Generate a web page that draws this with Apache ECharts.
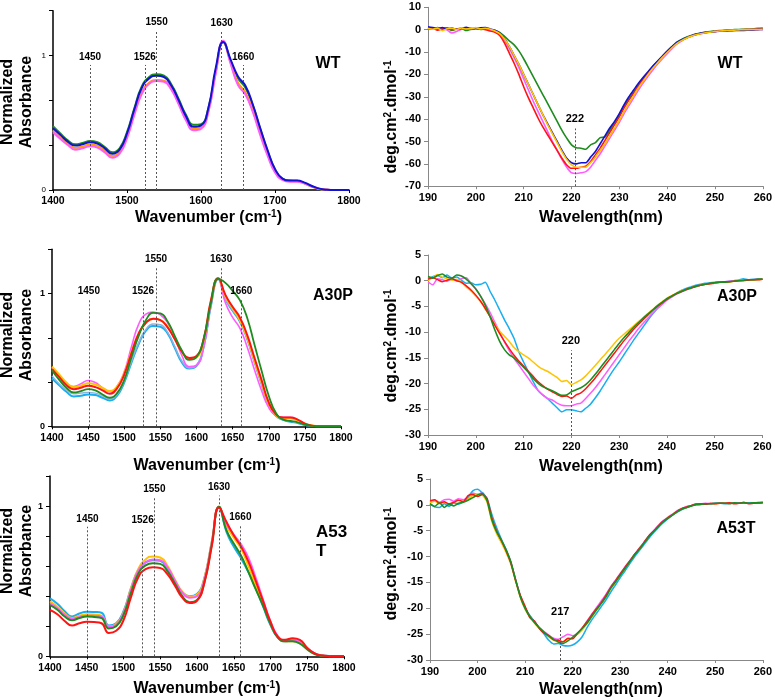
<!DOCTYPE html>
<html><head><meta charset="utf-8">
<script src="https://cdn.jsdelivr.net/npm/echarts@6/dist/echarts.min.js"></script>
<style>html,body{margin:0;padding:0;background:#fff}#c{width:775px;height:699px}</style>
</head><body><div id="c"></div><script>
// ---------- DATA ----------
const ftirX = [1400,1410,1420,1430,1440,1450,1460,1470,1480,1490,1500,1510,1520,1530,1540,1550,1560,1570,1580,1590,1600,1610,1620,1630,1640,1650,1660,1670,1680,1690,1700,1710,1720,1730,1740,1750,1760,1770,1780,1790,1800];
const cdX = [190,191,192,193,194,195,196,197,198,199,200,201,202,203,204,205,206,207,208,209,210,211,212,213,214,215,216,217,218,219,220,221,222,223,224,225,226,227,228,229,230,231,232,233,234,235,236,237,238,239,240,241,242,243,244,245,246,247,248,249,250,251,252,253,254,255,256,257,258,259,260];

// FTIR WT
const wtGreen   = [.475,.42,.37,.34,.35,.365,.355,.32,.28,.31,.43,.61,.77,.84,.86,.85,.785,.675,.555,.485,.49,.61,.89,1.10,.96,.83,.76,.63,.455,.29,.155,.085,.07,.068,.05,.025,.008,.002,0,0,0];
const wtBlue    = [.46,.41,.36,.33,.34,.355,.345,.31,.27,.30,.42,.60,.76,.83,.85,.84,.775,.665,.545,.47,.48,.61,.91,1.10,.97,.845,.775,.635,.46,.295,.155,.085,.07,.07,.055,.03,.01,.002,0,0,0];
const wtOrange  = [.445,.395,.35,.315,.325,.34,.33,.295,.255,.285,.40,.575,.73,.80,.82,.815,.755,.645,.525,.455,.465,.59,.88,1.10,.95,.80,.73,.60,.43,.27,.14,.08,.065,.065,.05,.025,.008,.002,0,0,0];
const wtYellow  = [.44,.39,.345,.31,.32,.335,.325,.29,.25,.28,.395,.57,.72,.795,.815,.81,.75,.64,.52,.45,.46,.585,.875,1.10,.945,.79,.72,.59,.42,.265,.14,.078,.065,.064,.048,.024,.008,.002,0,0,0];
const wtMagenta = [.43,.38,.335,.30,.31,.325,.315,.28,.24,.27,.385,.56,.715,.79,.81,.805,.745,.635,.515,.445,.455,.58,.87,1.11,.94,.78,.71,.58,.41,.255,.13,.075,.062,.062,.048,.026,.01,.003,0,0,0];

// FTIR A30P
const a30Magenta = [.44,.38,.32,.30,.32,.345,.33,.29,.26,.30,.41,.60,.77,.845,.86,.84,.78,.67,.53,.45,.46,.60,.92,1.115,.93,.82,.74,.60,.43,.27,.14,.08,.068,.068,.05,.02,.005,0,0,0,0];
const a30Orange  = [.45,.39,.33,.295,.305,.325,.315,.29,.265,.30,.40,.56,.70,.78,.81,.80,.75,.66,.56,.51,.52,.65,.94,1.115,.98,.89,.80,.67,.50,.33,.17,.085,.06,.058,.045,.02,.006,0,0,0,0];
const a30Red     = [.43,.37,.31,.28,.29,.305,.295,.27,.245,.285,.39,.55,.70,.78,.81,.80,.745,.655,.56,.515,.53,.66,.95,1.115,.99,.90,.82,.69,.52,.35,.18,.09,.066,.066,.05,.02,.005,0,0,0,0];
const a30Green   = [.42,.35,.29,.255,.265,.28,.27,.24,.215,.25,.35,.52,.68,.80,.855,.85,.79,.68,.57,.50,.52,.66,.93,1.11,1.08,1.02,.95,.82,.62,.42,.23,.10,.05,.04,.03,.012,.003,0,0,0,0];
const a30LBlue   = [.38,.32,.275,.245,.25,.255,.25,.23,.205,.24,.34,.49,.63,.73,.77,.765,.71,.60,.49,.44,.46,.60,.91,1.11,.96,.875,.795,.665,.49,.32,.16,.08,.05,.037,.027,.011,.003,0,0,0,0];
const a30Cyan    = [.36,.31,.26,.225,.23,.24,.235,.215,.195,.23,.33,.48,.62,.72,.755,.75,.70,.59,.48,.435,.455,.60,.91,1.11,.96,.87,.79,.66,.49,.32,.16,.08,.048,.035,.025,.01,.003,0,0,0,0];

// FTIR A53T
const a53Cyan    = [.386,.35,.30,.265,.285,.297,.295,.29,.205,.22,.30,.45,.575,.625,.64,.635,.575,.49,.425,.40,.415,.52,.76,.995,.83,.73,.652,.56,.452,.33,.208,.124,.10,.108,.093,.053,.02,.007,.002,0,0];
const a53Yellow  = [.365,.33,.285,.255,.27,.28,.278,.27,.198,.215,.29,.45,.58,.645,.665,.658,.60,.51,.43,.397,.41,.52,.76,.995,.87,.79,.715,.60,.47,.35,.22,.13,.10,.10,.09,.05,.018,.005,.001,0,0];
const a53Magenta = [.352,.32,.277,.25,.262,.27,.27,.265,.195,.21,.285,.44,.57,.625,.645,.64,.59,.505,.425,.39,.40,.51,.75,.99,.88,.81,.745,.655,.52,.375,.23,.135,.105,.11,.10,.055,.02,.005,.001,0,0];
const a53Green   = [.34,.31,.265,.24,.255,.265,.262,.255,.185,.20,.275,.42,.55,.605,.62,.615,.565,.485,.40,.36,.375,.49,.74,.995,.84,.75,.67,.56,.445,.335,.215,.125,.10,.10,.085,.045,.015,.004,.001,0,0];
const a53Red     = [.308,.28,.235,.205,.22,.23,.228,.22,.155,.17,.24,.39,.525,.58,.592,.588,.545,.47,.39,.355,.37,.49,.73,.99,.895,.805,.73,.63,.50,.365,.23,.13,.11,.12,.11,.055,.02,.005,.001,0,0];

// CD WT
const wtcdGreen = [0.8,0.4,0.9,0.2,0.5,-0.3,0.3,0.6,-0.4,0.2,
 0.5,0.1,0.4,0.0,-0.4,-1.2,-3.0,-5.0,-6.8,-9.5,
 -13.0,-17.0,-21.0,-25.0,-29.0,-33.0,-37.0,-41.0,-45.0,-48.5,
 -51.5,-52.8,-53.0,-53.5,-51.5,-50.5,-48.3,-48.0,-45.0,-41.5,
 -38.0,-34.0,-31.0,-28.0,-25.0,-22.0,-19.2,-16.6,-14.2,-12.0,
 -9.8,-7.6,-5.6,-4.4,-3.4,-2.6,-2.0,-1.5,-1.1,-0.8,
 -0.6,-0.4,-0.3,-0.1,0.0,0.1,0.2,0.3,0.4,0.6,
 0.7];
const wtcdBlue = [1.3,0.9,0.5,1.0,0.3,0.7,0.2,0.6,1.1,0.4,
 0.6,0.8,0.9,0.3,-0.3,-1.5,-4.0,-7.5,-11.5,-15.5,
 -20.0,-24.5,-29.0,-33.5,-38.0,-42.0,-46.0,-50.0,-54.0,-57.5,
 -59.5,-60.0,-59.5,-59.5,-57.0,-54.5,-51.0,-47.5,-44.0,-41.0,
 -37.5,-33.5,-30.0,-27.0,-24.0,-21.3,-18.8,-16.3,-14.0,-11.8,
 -9.6,-7.6,-5.8,-4.6,-3.6,-2.8,-2.1,-1.6,-1.3,-1.1,
 -0.9,-0.7,-0.6,-0.5,-0.4,-0.3,-0.3,-0.2,-0.1,0.0,
 0.1];
const wtcdRed = [0.2,0.6,-0.2,0.4,0.8,0.1,0.3,0.5,0.2,0.6,
 0.4,0.3,0.0,-0.6,-1.2,-2.6,-6.0,-10.5,-15.0,-20.0,
 -25.5,-30.5,-35.0,-39.5,-43.5,-47.0,-50.5,-54.0,-57.5,-60.5,
 -62.0,-62.0,-61.5,-61.0,-59.0,-56.0,-53.0,-49.5,-46.0,-42.5,
 -39.0,-35.0,-31.5,-28.5,-25.2,-22.2,-19.3,-16.6,-14.2,-12.0,
 -9.8,-7.8,-6.0,-4.8,-3.7,-2.9,-2.2,-1.7,-1.3,-1.0,
 -0.8,-0.6,-0.4,-0.3,-0.2,-0.1,0.0,0.1,0.1,0.2,
 0.2];
const wtcdOrange = [0.5,0.2,0.7,-0.5,0.4,0.6,0.1,0.8,0.3,0.5,
 0.9,0.4,0.6,0.2,-0.6,-1.8,-4.2,-7.5,-11.5,-15.5,
 -20.0,-24.5,-29.0,-33.5,-38.0,-42.5,-46.5,-50.5,-54.5,-58.0,
 -60.5,-61.5,-61.5,-61.5,-59.5,-57.0,-54.0,-51.0,-47.5,-44.0,
 -40.5,-36.5,-33.0,-29.5,-26.0,-23.0,-20.0,-17.3,-14.8,-12.4,
 -10.2,-8.1,-6.2,-4.9,-3.8,-3.0,-2.3,-1.8,-1.4,-1.1,
 -0.8,-0.6,-0.5,-0.3,-0.2,-0.1,0.0,0.0,0.1,0.1,
 0.2];
const wtcdMagenta = [0.3,0.7,0.0,0.4,-0.2,-1.5,-0.8,0.2,0.5,0.1,
 0.6,0.3,0.5,-0.2,-0.8,-2.0,-4.8,-8.5,-12.5,-17.0,
 -22.0,-27.0,-32.0,-36.5,-41.0,-45.5,-50.0,-54.0,-58.0,-61.5,
 -64.0,-64.3,-64.0,-63.5,-61.5,-58.5,-55.5,-52.0,-48.5,-45.0,
 -41.5,-37.5,-34.0,-30.5,-27.0,-23.8,-20.8,-18.0,-15.4,-13.0,
 -10.7,-8.5,-6.5,-5.1,-3.9,-3.0,-2.3,-1.8,-1.4,-1.1,
 -0.8,-0.6,-0.5,-0.4,-0.3,-0.2,-0.1,0.0,0.0,0.1,
 0.1];

// CD A30P
const a30cdYellow = [0.0,0.6,1.2,0.7,0.4,0.1,0.3,-0.3,-1.2,-2.0,
 -3.0,-4.0,-5.5,-7.0,-8.5,-9.8,-10.8,-11.8,-13.0,-13.8,
 -14.4,-15.0,-15.8,-16.6,-17.2,-17.6,-18.2,-18.8,-19.6,-19.4,
 -20.2,-19.8,-19.3,-18.5,-17.5,-16.5,-15.4,-14.4,-13.3,-12.2,
 -11.2,-10.4,-9.6,-8.8,-8.0,-7.2,-6.4,-5.6,-4.8,-4.1,
 -3.4,-2.9,-2.4,-2.0,-1.7,-1.4,-1.1,-0.9,-0.7,-0.6,
 -0.5,-0.4,-0.2,-0.3,-0.1,0.0,0.1,0.2,0.1,0.2,
 0.3];
const a30cdGreen = [0.8,0.5,1.0,1.3,0.7,0.5,1.1,0.9,0.3,-0.6,
 -1.6,-3.0,-4.8,-7.0,-9.6,-11.8,-13.4,-14.4,-15.0,-15.9,
 -16.8,-17.8,-19.0,-19.9,-20.6,-21.0,-21.4,-21.9,-22.3,-22.2,
 -21.6,-21.2,-20.8,-20.2,-19.3,-18.2,-17.0,-15.8,-14.6,-13.4,
 -12.2,-11.1,-10.1,-9.1,-8.2,-7.3,-6.5,-5.7,-4.9,-4.2,
 -3.5,-3.0,-2.5,-2.1,-1.7,-1.4,-1.1,-0.9,-0.7,-0.5,
 -0.4,-0.3,-0.3,-0.2,-0.1,0.0,0.1,0.2,0.2,0.3,
 0.3];
const a30cdRed = [0.3,0.6,0.2,-0.2,0.1,0.4,0.0,-0.3,-1.0,-1.8,
 -2.8,-4.0,-5.4,-7.0,-8.7,-10.3,-11.8,-13.2,-14.5,-15.6,
 -16.6,-17.6,-18.6,-19.6,-20.4,-21.1,-21.6,-22.1,-22.5,-22.4,
 -22.9,-22.2,-21.8,-21.0,-20.0,-18.9,-17.7,-16.5,-15.3,-14.1,
 -12.9,-11.7,-10.6,-9.5,-8.5,-7.6,-6.7,-5.8,-5.0,-4.3,
 -3.6,-3.0,-2.5,-2.1,-1.7,-1.4,-1.1,-0.9,-0.7,-0.6,
 -0.4,-0.3,-0.2,-0.2,-0.1,0.0,0.0,0.1,0.2,0.2,
 0.3];
const a30cdMagenta = [-0.2,-0.8,0.4,0.2,-0.1,0.3,0.0,0.4,0.6,-0.5,
 -1.6,-3.0,-4.5,-6.2,-8.1,-10.0,-11.9,-13.6,-15.1,-16.4,
 -17.7,-19.0,-20.3,-21.3,-22.2,-22.9,-23.2,-23.8,-24.2,-24.3,
 -24.3,-24.0,-23.8,-22.9,-21.9,-20.8,-19.6,-18.3,-17.0,-15.7,
 -14.4,-13.1,-11.8,-10.6,-9.4,-8.3,-7.3,-6.3,-5.4,-4.6,
 -3.8,-3.2,-2.6,-2.2,-1.8,-1.5,-1.2,-0.9,-0.7,-0.6,
 -0.5,-0.3,-0.2,-0.1,0.0,0.1,0.2,0.1,0.2,0.3,
 0.3];
const a30cdCyan = [0.2,0.8,1.0,0.6,1.1,0.5,0.7,0.1,-0.5,-0.4,
 -0.8,-0.7,-0.3,-2.1,-3.8,-5.7,-7.6,-9.3,-11.2,-13.8,
 -15.8,-17.7,-19.6,-21.3,-22.2,-22.9,-23.8,-24.7,-25.5,-25.1,
 -25.1,-25.3,-25.5,-24.8,-24.0,-22.8,-21.5,-20.0,-18.5,-17.1,
 -15.8,-14.4,-13.0,-11.6,-10.3,-9.0,-7.7,-6.5,-5.4,-4.5,
 -3.7,-3.0,-2.4,-1.9,-1.5,-1.2,-0.9,-0.7,-0.5,-0.4,
 -0.3,-0.2,-0.2,-0.1,0.0,0.1,0.4,0.2,0.3,0.3,
 0.3];

// CD A53T
const a53cdRed = [0.8,1.0,0.3,0.6,0.2,0.5,0.9,0.6,1.8,2.0,
 1.6,2.0,1.2,-2.5,-5.0,-6.9,-8.9,-11.2,-14.6,-17.5,
 -19.6,-21.8,-22.5,-23.9,-24.8,-25.3,-26.1,-26.2,-26.5,-25.8,
 -25.9,-24.9,-23.8,-22.6,-21.3,-20.1,-18.9,-17.5,-16.0,-14.7,
 -13.4,-12.1,-10.9,-9.6,-8.5,-7.3,-6.0,-5.1,-4.1,-3.2,
 -2.5,-1.9,-1.2,-0.7,-0.4,-0.1,0.1,0.2,0.1,0.3,
 0.2,0.3,0.3,0.4,0.2,0.3,0.5,0.2,0.3,0.4,
 0.4];
const a53cdMagenta = [0.6,0.9,0.5,1.0,1.1,0.7,1.2,1.0,1.5,2.3,
 2.0,2.4,1.0,-2.7,-5.1,-7.0,-8.8,-11.1,-14.4,-17.6,
 -19.8,-21.5,-22.6,-23.7,-24.5,-25.2,-25.8,-26.0,-25.5,-25.0,
 -25.3,-25.0,-24.0,-22.5,-21.2,-19.9,-18.6,-17.3,-15.8,-14.6,
 -13.3,-12.0,-10.8,-9.6,-8.4,-7.2,-6.0,-5.0,-4.0,-3.1,
 -2.4,-1.8,-1.1,-0.7,-0.3,-0.1,0.2,0.2,0.3,0.2,
 0.3,0.4,0.3,0.3,0.4,0.3,0.4,0.4,0.3,0.5,
 0.5];
const a53cdYellow = [0.4,0.7,0.2,0.5,0.0,0.4,0.2,0.7,1.2,1.8,
 2.1,1.9,0.5,-3.2,-5.6,-7.3,-9.2,-11.5,-14.8,-17.9,
 -20.2,-21.7,-22.9,-23.9,-24.9,-25.6,-26.2,-26.5,-26.4,-26.0,
 -25.8,-25.0,-24.2,-23.0,-21.7,-20.4,-19.1,-17.8,-16.3,-15.0,
 -13.7,-12.4,-11.1,-9.8,-8.6,-7.4,-6.2,-5.2,-4.2,-3.3,
 -2.6,-1.9,-1.3,-0.8,-0.5,-0.2,0.0,0.1,0.2,0.2,
 0.2,0.3,0.3,0.3,0.3,0.4,0.3,0.4,0.4,0.4,
 0.4];
const a53cdCyan = [0.3,-0.4,-0.5,0.2,-0.3,0.4,0.1,0.6,1.5,2.7,
 3.0,2.3,1.2,-1.8,-4.4,-6.6,-8.6,-11.2,-14.5,-17.6,
 -19.9,-21.4,-22.6,-23.8,-25.0,-26.2,-26.9,-26.8,-27.2,-27.3,
 -27.1,-26.5,-25.5,-23.8,-22.3,-21.0,-19.7,-18.4,-16.9,-15.5,
 -14.1,-12.8,-11.4,-10.1,-8.9,-7.7,-6.5,-5.4,-4.4,-3.5,
 -2.7,-2.0,-1.4,-0.9,-0.5,-0.2,0.0,0.1,0.2,0.2,
 0.3,0.3,0.2,0.3,0.3,0.4,0.3,0.4,0.4,0.3,
 0.4];
const a53cdGreen = [0.2,-0.3,0.4,-0.5,0.1,-0.2,0.3,0.5,0.9,1.4,
 1.9,2.2,0.8,-2.9,-5.2,-6.8,-8.7,-11.0,-14.5,-17.8,
 -20.0,-21.6,-22.8,-23.8,-24.6,-25.4,-26.0,-26.5,-26.8,-26.3,
 -25.6,-24.8,-23.9,-22.9,-21.6,-20.3,-19.1,-17.8,-16.1,-14.9,
 -13.6,-12.3,-11.0,-9.7,-8.6,-7.4,-6.2,-5.2,-4.2,-3.3,
 -2.6,-2.0,-1.3,-0.8,-0.5,-0.2,0.1,0.1,0.2,0.2,
 0.3,0.3,0.3,0.2,0.4,0.3,0.4,0.3,0.4,0.4,
 0.5];

// Marker (dotted reference) lines
const wtMarkPos = [1450,1524,1540,1628,1657];
const wtMarkTop = [0.93,0.93,1.186,1.18,0.93];
const a30MarkPos = [1451,1526,1544,1634,1662];
const a30MarkTop = [0.957,0.957,1.197,1.197,0.957];
const a53MarkPos = [1451,1526,1542,1630,1659];
const a53MarkTop = [0.862,0.85,1.06,1.07,0.875];
const ftirMarkLabels = ['1450','1526','1550','1630','1660'];
const cdMarkPos = [220.7, 219.9, 217.4];
const cdMarkTop = [-44.2, -13.5, -22.6];
const cdMarkLabels = ['222','220','217'];
const panelLabels = ['WT','WT','A30P','A30P','A53\nT','A53T'];

// ---------- STYLE ----------
const FF = 'Liberation Sans, Arial, Helvetica, sans-serif';
const C = {green:'#1e8c1e', blue:'#1212d4', orange:'#ff9c00', yellow:'#ffc400', magenta:'#ff5cff',
           red:'#ff1414', cyan:'#18aef0', lblue:'#8fb3df'};

const grids = [
  {left:53, top:10.7, width:296, height:179.3},
  {left:428, top:7.3, width:335.5, height:178.9},
  {left:52, top:249.3, width:289, height:177},
  {left:428, top:255, width:334.5, height:180},
  {left:50, top:476, width:294, height:180.3},
  {left:430, top:479, width:336.5, height:181}
];
const plain = v => String(v);

function ftirXAxis(gi, interval) {
  return {gridIndex:gi, type:'value', min:1400, max:1800, interval,
    axisLine:{onZero:false, lineStyle:{color:'#000', width:1.5}},
    axisTick:{show:true, length:3, lineStyle:{color:'#000'}},
    axisLabel:{color:'#000', fontSize:10.5, fontWeight:'bold', fontFamily:FF, margin:6, formatter:plain},
    splitLine:{show:false}};
}
function ftirYAxis(gi, max, interval, fs, fw) {
  return {gridIndex:gi, type:'value', min:0, max, interval,
    axisLine:{lineStyle:{color:'#000', width:1.5}},
    axisTick:{show:true, length:4, lineStyle:{color:'#000'}},
    axisLabel:{color:'#000', fontSize:fs, fontWeight:fw, fontFamily:FF, margin:7,
      formatter: v => Math.abs(v-1)<1e-6 ? '1' : (Math.abs(v)<1e-6 ? '0' : '')},
    splitLine:{show:false}};
}
function cdXAxis(gi) {
  return {gridIndex:gi, type:'value', min:190, max:260, interval:10,
    axisLine:{onZero:false, lineStyle:{color:'#888', width:1}},
    axisTick:{show:true, length:3, lineStyle:{color:'#888'}},
    axisLabel:{color:'#000', fontSize:11, fontWeight:'bold', fontFamily:FF, margin:6, formatter:plain},
    splitLine:{show:false}};
}
function cdYAxis(gi, min, max, interval) {
  return {gridIndex:gi, type:'value', min, max, interval,
    axisLine:{onZero:false, lineStyle:{color:'#888', width:1}},
    axisTick:{show:true, length:4, lineStyle:{color:'#888'}},
    axisLabel:{color:'#000', fontSize:11, fontWeight:'bold', fontFamily:FF, margin:7, formatter:plain},
    splitLine:{show:false}};
}
function line(gi, xs, ys, color, width, smooth) {
  return {type:'line', xAxisIndex:gi, yAxisIndex:gi, data: xs.map((x,i)=>[x, ys[i]]),
    symbol:'none', showSymbol:false, smooth, lineStyle:{color, width}, itemStyle:{color},
    silent:true, animation:false, z:3};
}
function marks(gi, pos, tops, labels, fs, dist) {
  return {type:'line', xAxisIndex:gi, yAxisIndex:gi, data:[], silent:true, z:2,
    markLine:{silent:true, symbol:'none', animation:false,
      lineStyle:{color:'#555', width:1, type:[2,2]},
      label:{show:true, position:'end', formatter:'{b}', color:'#000', fontSize:fs,
             fontWeight:'bold', fontFamily:FF, distance:dist},
      data: pos.map((p,i)=>[{coord:[p, 0], name:labels[i]}, {coord:[p, tops[i]]}])}};
}
function cdMarks(gi, k, ymin) {
  return {type:'line', xAxisIndex:gi, yAxisIndex:gi, data:[], silent:true, z:2,
    markLine:{silent:true, symbol:'none', animation:false,
      lineStyle:{color:'#555', width:1, type:[2,2]},
      label:{show:true, position:'end', formatter:'{b}', color:'#000', fontSize:11,
             fontWeight:'bold', fontFamily:FF, distance:4},
      data:[[{coord:[cdMarkPos[k], ymin], name:cdMarkLabels[k]}, {coord:[cdMarkPos[k], cdMarkTop[k]]}]]}};
}

const series = [
  marks(0, wtMarkPos, wtMarkTop, ftirMarkLabels, 10, 3),
  line(0, ftirX, wtGreen, C.green, 2, 0.5),
  line(0, ftirX, wtYellow, C.yellow, 2, 0.5),
  line(0, ftirX, wtOrange, C.orange, 1.5, 0.5),
  line(0, ftirX, wtMagenta, C.magenta, 2, 0.5),
  line(0, ftirX, wtBlue, C.blue, 2, 0.5),

  cdMarks(1, 0, -70),
  line(1, cdX, wtcdGreen, C.green, 1.6, 0.2),
  line(1, cdX, wtcdMagenta, C.magenta, 1.6, 0.2),
  line(1, cdX, wtcdRed, C.red, 1.6, 0.2),
  line(1, cdX, wtcdBlue, C.blue, 1.6, 0.2),
  line(1, cdX, wtcdOrange, C.yellow, 1.6, 0.2),

  marks(2, a30MarkPos, a30MarkTop, ftirMarkLabels, 10, 3),
  line(2, ftirX, a30Cyan, C.cyan, 2, 0.5),
  line(2, ftirX, a30LBlue, C.lblue, 1.5, 0.5),
  line(2, ftirX, a30Magenta, C.magenta, 1.6, 0.5),
  line(2, ftirX, a30Orange, C.yellow, 2, 0.5),
  line(2, ftirX, a30Red, C.red, 2, 0.5),
  line(2, ftirX, a30Green, C.green, 1.8, 0.5),

  cdMarks(3, 1, -30),
  line(3, cdX, a30cdCyan, C.cyan, 1.5, 0.2),
  line(3, cdX, a30cdMagenta, C.magenta, 1.5, 0.2),
  line(3, cdX, a30cdYellow, C.yellow, 1.5, 0.2),
  line(3, cdX, a30cdRed, C.red, 1.5, 0.2),
  line(3, cdX, a30cdGreen, C.green, 1.6, 0.2),

  marks(4, a53MarkPos, a53MarkTop, ftirMarkLabels, 10, 3),
  line(4, ftirX, a53Cyan, C.cyan, 2, 0.5),
  line(4, ftirX, a53Yellow, C.yellow, 2, 0.5),
  line(4, ftirX, a53Magenta, C.magenta, 2, 0.5),
  line(4, ftirX, a53Green, C.green, 2, 0.5),
  line(4, ftirX, a53Red, C.red, 2, 0.5),

  cdMarks(5, 2, -30),
  line(5, cdX, a53cdMagenta, C.magenta, 1.5, 0.2),
  line(5, cdX, a53cdYellow, C.yellow, 1.5, 0.2),
  line(5, cdX, a53cdCyan, C.cyan, 1.5, 0.2),
  line(5, cdX, a53cdRed, C.red, 1.5, 0.2),
  line(5, cdX, a53cdGreen, C.green, 1.6, 0.2)
];

function txt(x, y, text, size, extra) {
  return Object.assign({type:'text', x, y, silent:true,
    style:{text, fontSize:size, fontWeight:'bold', fontFamily:FF, fill:'#000',
           align:'center', verticalAlign:'middle', lineHeight:19}}, extra || {});
}
const richBase = {
  m:{fontSize:16, fontWeight:'bold', fontFamily:FF, fill:'#000', lineHeight:18},
  s:{fontSize:10, fontWeight:'bold', fontFamily:FF, fill:'#000', verticalAlign:'top', lineHeight:18}
};
function richTxt(x, y, text, rot) {
  return {type:'text', x, y, rotation: rot || 0, silent:true,
    style:{text, rich:richBase, fontSize:16, fontWeight:'bold', fontFamily:FF, fill:'#000',
           align:'center', verticalAlign:'middle'}};
}
const xTitleFTIR = '{m|Wavenumber (cm}{s|-1}{m|)}';
const xTitleCD = '{m|Wavelength(nm)}';
const yTitleCD = '{m|deg.cm}{s|2}{m|.dmol}{s|-1}';

const graphic = [
  txt(328, 64, panelLabels[0], 16), txt(730, 64, panelLabels[1], 16),
  txt(333, 296, panelLabels[2], 16), txt(737, 297, panelLabels[3], 16),
  {type:'text', x:316, y:542, silent:true, style:{text:panelLabels[4], fontSize:17, fontWeight:'bold', fontFamily:FF, fill:'#000', align:'left', verticalAlign:'middle', lineHeight:19}},
  txt(736, 529, panelLabels[5], 16),
  richTxt(208.5, 218, xTitleFTIR), richTxt(207, 466, xTitleFTIR), richTxt(207, 689, xTitleFTIR),
  richTxt(601, 218, xTitleCD), richTxt(601, 467, xTitleCD), richTxt(601, 690, xTitleCD),
  txt(17.5, 102, 'Normalized\nAbsorbance', 16, {rotation:Math.PI/2}),
  txt(17.5, 335, 'Normalized\nAbsorbance', 16, {rotation:Math.PI/2}),
  txt(17.5, 551, 'Normalized\nAbsorbance', 16, {rotation:Math.PI/2}),
  richTxt(392, 117, yTitleCD, Math.PI/2),
  richTxt(392, 346, yTitleCD, Math.PI/2),
  richTxt(392, 564, yTitleCD, Math.PI/2)
];

const chart = echarts.init(document.getElementById('c'), null, {renderer:'canvas'});
chart.setOption({
  animation:false,
  backgroundColor:'#fff',
  grid: grids,
  xAxis: [ftirXAxis(0,100), cdXAxis(1), ftirXAxis(2,50), cdXAxis(3), ftirXAxis(4,50), cdXAxis(5)],
  yAxis: [ftirYAxis(0, 4/3, 1/3, 8, 'normal'), cdYAxis(1,-70,10,10),
          ftirYAxis(2, 4/3, 1/3, 9, 'bold'), cdYAxis(3,-30,5,5),
          ftirYAxis(4, 1.2, 0.2, 9, 'bold'), cdYAxis(5,-30,5,5)],
  series,
  graphic
});
</script></body></html>
